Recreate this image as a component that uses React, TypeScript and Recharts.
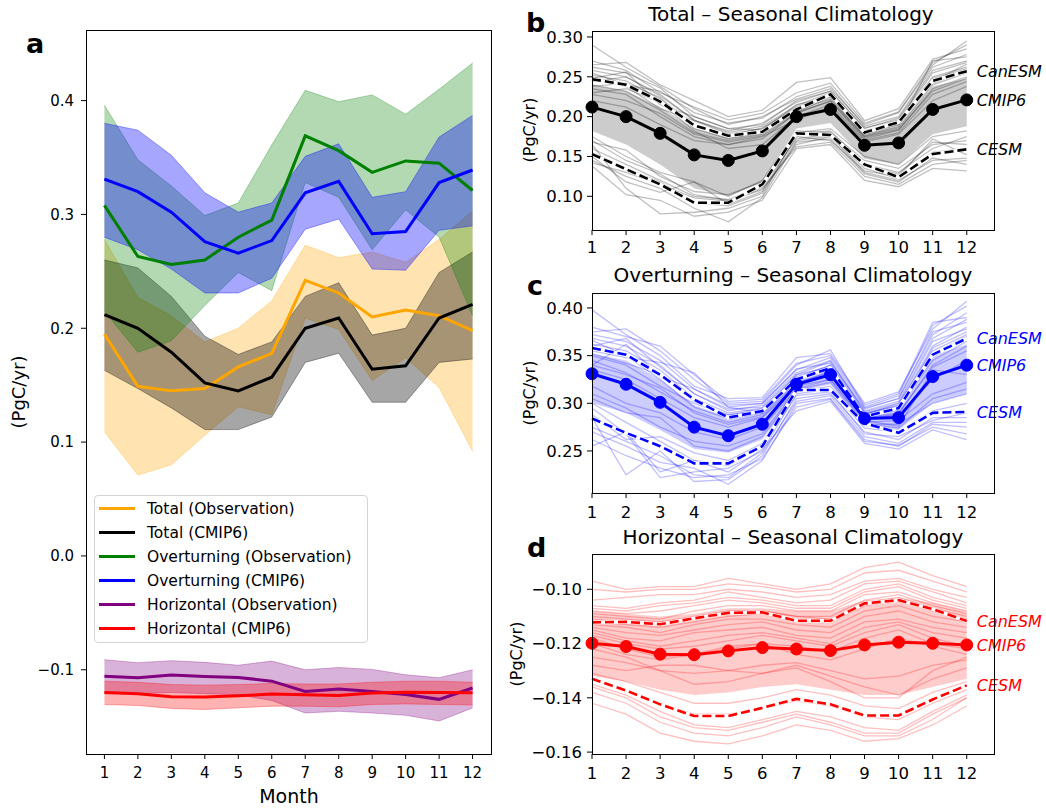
import { ComposedChart, Line, Area, XAxis, YAxis, ReferenceDot } from 'recharts';

const FONT = '"DejaVu Sans", "Liberation Sans", sans-serif';
const MINUS = '\u2212';

const months = [1, 2, 3, 4, 5, 6, 7, 8, 9, 10, 11, 12];

// ---- panel a: observation vs CMIP6 mean with spread ----
const totalObs = [0.195, 0.149, 0.145, 0.147, 0.166, 0.178, 0.242, 0.231, 0.21, 0.216, 0.211, 0.198];
const totalObsLo = [0.109, 0.071, 0.08, 0.106, 0.131, 0.124, 0.209, 0.199, 0.154, 0.174, 0.148, 0.092];
const totalObsHi = [0.278, 0.227, 0.211, 0.188, 0.2, 0.224, 0.273, 0.262, 0.267, 0.258, 0.278, 0.303];

const totalCmip = [0.212, 0.2, 0.179, 0.152, 0.145, 0.157, 0.2, 0.209, 0.164, 0.167, 0.209, 0.221];
const totalCmipLo = [0.163, 0.147, 0.13, 0.111, 0.111, 0.122, 0.17, 0.178, 0.135, 0.135, 0.17, 0.173];
const totalCmipHi = [0.26, 0.253, 0.228, 0.193, 0.177, 0.188, 0.228, 0.24, 0.194, 0.2, 0.249, 0.267];

const overObs = [0.308, 0.263, 0.256, 0.26, 0.28, 0.295, 0.369, 0.356, 0.337, 0.347, 0.345, 0.321];
const overObsLo = [0.215, 0.179, 0.189, 0.22, 0.249, 0.233, 0.328, 0.315, 0.269, 0.304, 0.28, 0.211];
const overObsHi = [0.396, 0.348, 0.325, 0.299, 0.31, 0.361, 0.409, 0.399, 0.405, 0.388, 0.41, 0.433];

const overCmip = [0.331, 0.32, 0.302, 0.276, 0.266, 0.277, 0.319, 0.329, 0.283, 0.285, 0.328, 0.339];
const overCmipLo = [0.28, 0.269, 0.252, 0.231, 0.231, 0.244, 0.287, 0.296, 0.252, 0.251, 0.286, 0.29];
const overCmipHi = [0.38, 0.374, 0.352, 0.319, 0.302, 0.31, 0.351, 0.362, 0.315, 0.32, 0.368, 0.387];

const horizObs = [-0.1056, -0.107, -0.1047, -0.106, -0.1067, -0.11, -0.119, -0.117, -0.119, -0.1217, -0.126, -0.116];
const horizObsLo = [-0.121, -0.121, -0.12, -0.121, -0.122, -0.127, -0.138, -0.1365, -0.138, -0.14, -0.145, -0.1335];
const horizObsHi = [-0.0912, -0.0938, -0.092, -0.0935, -0.096, -0.0924, -0.1, -0.098, -0.0997, -0.1044, -0.107, -0.1];

const horizCmip = [-0.12, -0.121, -0.1238, -0.124, -0.1229, -0.1214, -0.122, -0.1226, -0.1205, -0.1197, -0.1199, -0.1203];
const horizCmipLo = [-0.1305, -0.1314, -0.134, -0.1349, -0.1334, -0.132, -0.132, -0.1326, -0.1305, -0.13, -0.1305, -0.131];
const horizCmipHi = [-0.11, -0.111, -0.113, -0.1135, -0.113, -0.112, -0.1125, -0.1125, -0.111, -0.11, -0.11, -0.111];

const aTicks = [-0.1, 0, 0.1, 0.2, 0.3, 0.4];

// ---- panel b: Total ----
const bCmip = [0.212, 0.2, 0.179, 0.152, 0.145, 0.157, 0.2, 0.209, 0.164, 0.167, 0.209, 0.221];
const bCanesm = [0.247, 0.24, 0.219, 0.189, 0.176, 0.181, 0.209, 0.228, 0.18, 0.193, 0.245, 0.257];
const bCesm = [0.153, 0.134, 0.115, 0.092, 0.092, 0.115, 0.179, 0.177, 0.14, 0.124, 0.153, 0.159];
const bLo = [0.182, 0.165, 0.14, 0.11, 0.1, 0.118, 0.185, 0.192, 0.147, 0.14, 0.178, 0.188];
const bHi = [0.24, 0.232, 0.212, 0.185, 0.174, 0.18, 0.208, 0.222, 0.178, 0.188, 0.238, 0.248];
const bMembers = [
  [0.29, 0.262, 0.238, 0.21, 0.19, 0.2, 0.222, 0.235, 0.19, 0.205, 0.265, 0.295],
  [0.265, 0.268, 0.24, 0.22, 0.2, 0.208, 0.243, 0.249, 0.195, 0.21, 0.272, 0.285],
  [0.258, 0.25, 0.228, 0.195, 0.182, 0.192, 0.218, 0.232, 0.185, 0.198, 0.258, 0.27],
  [0.252, 0.245, 0.222, 0.19, 0.176, 0.186, 0.212, 0.228, 0.182, 0.193, 0.25, 0.262],
  [0.248, 0.256, 0.215, 0.2, 0.185, 0.183, 0.215, 0.225, 0.178, 0.19, 0.244, 0.266],
  [0.24, 0.232, 0.208, 0.18, 0.17, 0.178, 0.21, 0.222, 0.175, 0.186, 0.24, 0.255],
  [0.235, 0.228, 0.2, 0.175, 0.165, 0.172, 0.205, 0.219, 0.172, 0.183, 0.235, 0.25],
  [0.23, 0.235, 0.218, 0.182, 0.16, 0.165, 0.2, 0.215, 0.17, 0.18, 0.228, 0.244],
  [0.22, 0.212, 0.19, 0.17, 0.165, 0.175, 0.196, 0.212, 0.168, 0.178, 0.22, 0.238],
  [0.175, 0.15, 0.13, 0.118, 0.1, 0.12, 0.18, 0.185, 0.15, 0.14, 0.175, 0.182],
  [0.165, 0.11, 0.078, 0.08, 0.085, 0.1, 0.178, 0.182, 0.14, 0.13, 0.16, 0.175],
  [0.16, 0.14, 0.12, 0.1, 0.096, 0.112, 0.172, 0.178, 0.138, 0.128, 0.168, 0.165],
  [0.145, 0.125, 0.11, 0.085, 0.068, 0.098, 0.168, 0.172, 0.128, 0.118, 0.148, 0.14],
  [0.138, 0.102, 0.095, 0.075, 0.08, 0.095, 0.16, 0.165, 0.12, 0.112, 0.135, 0.132],
  [0.15, 0.118, 0.105, 0.118, 0.09, 0.106, 0.175, 0.17, 0.132, 0.125, 0.172, 0.152],
  [0.255, 0.24, 0.232, 0.205, 0.192, 0.198, 0.225, 0.238, 0.188, 0.2, 0.262, 0.278],
  [0.262, 0.255, 0.236, 0.2, 0.185, 0.19, 0.22, 0.232, 0.186, 0.196, 0.255, 0.268],
  [0.244, 0.25, 0.226, 0.196, 0.18, 0.188, 0.214, 0.23, 0.18, 0.192, 0.248, 0.26],
  [0.238, 0.242, 0.224, 0.185, 0.172, 0.18, 0.206, 0.224, 0.176, 0.188, 0.27, 0.275],
  [0.228, 0.22, 0.204, 0.178, 0.168, 0.176, 0.204, 0.22, 0.174, 0.184, 0.232, 0.248],
  [0.27, 0.258, 0.23, 0.212, 0.196, 0.204, 0.23, 0.242, 0.192, 0.206, 0.268, 0.29],
  [0.25, 0.238, 0.21, 0.195, 0.178, 0.185, 0.21, 0.226, 0.18, 0.19, 0.242, 0.258],
  [0.17, 0.145, 0.128, 0.102, 0.095, 0.108, 0.165, 0.175, 0.135, 0.122, 0.155, 0.16],
  [0.155, 0.135, 0.118, 0.092, 0.088, 0.104, 0.17, 0.176, 0.13, 0.12, 0.145, 0.148],
  [0.142, 0.13, 0.115, 0.098, 0.094, 0.11, 0.162, 0.168, 0.125, 0.115, 0.14, 0.145],
  [0.168, 0.158, 0.125, 0.106, 0.102, 0.118, 0.182, 0.18, 0.145, 0.135, 0.165, 0.17],
];
const bTicks = [0.1, 0.15, 0.2, 0.25, 0.3];

// ---- panel c: Overturning ----
const cCmip = [0.331, 0.32, 0.301, 0.275, 0.266, 0.278, 0.32, 0.33, 0.284, 0.285, 0.328, 0.34];
const cCanesm = [0.358, 0.351, 0.33, 0.304, 0.285, 0.292, 0.325, 0.337, 0.286, 0.295, 0.351, 0.368];
const cCesm = [0.284, 0.269, 0.255, 0.237, 0.237, 0.255, 0.314, 0.314, 0.279, 0.269, 0.29, 0.291];
const cLo = [0.3, 0.29, 0.272, 0.252, 0.248, 0.262, 0.312, 0.32, 0.276, 0.272, 0.3, 0.31];
const cHi = [0.352, 0.345, 0.325, 0.298, 0.285, 0.292, 0.326, 0.336, 0.29, 0.298, 0.35, 0.362];
const cMembers = [
  [0.398, 0.372, 0.35, 0.318, 0.305, 0.306, 0.348, 0.352, 0.3, 0.312, 0.378, 0.407],
  [0.375, 0.378, 0.355, 0.325, 0.3, 0.302, 0.34, 0.356, 0.296, 0.308, 0.382, 0.402],
  [0.368, 0.36, 0.34, 0.31, 0.292, 0.298, 0.332, 0.345, 0.292, 0.302, 0.368, 0.388],
  [0.362, 0.355, 0.335, 0.305, 0.29, 0.295, 0.328, 0.34, 0.29, 0.298, 0.36, 0.38],
  [0.355, 0.348, 0.343, 0.332, 0.296, 0.29, 0.33, 0.338, 0.288, 0.3, 0.355, 0.372],
  [0.35, 0.34, 0.318, 0.3, 0.288, 0.292, 0.325, 0.335, 0.287, 0.295, 0.345, 0.365],
  [0.345, 0.332, 0.312, 0.292, 0.28, 0.288, 0.322, 0.332, 0.285, 0.29, 0.338, 0.355],
  [0.335, 0.325, 0.305, 0.285, 0.275, 0.285, 0.318, 0.33, 0.283, 0.288, 0.325, 0.345],
  [0.318, 0.3, 0.29, 0.27, 0.262, 0.275, 0.315, 0.325, 0.28, 0.282, 0.31, 0.322],
  [0.305, 0.29, 0.285, 0.255, 0.25, 0.265, 0.312, 0.318, 0.278, 0.278, 0.3, 0.31],
  [0.295, 0.268, 0.222, 0.228, 0.232, 0.25, 0.31, 0.315, 0.274, 0.27, 0.292, 0.3],
  [0.285, 0.225, 0.25, 0.218, 0.22, 0.245, 0.305, 0.31, 0.27, 0.262, 0.285, 0.285],
  [0.27, 0.255, 0.238, 0.232, 0.215, 0.24, 0.3, 0.305, 0.262, 0.255, 0.278, 0.275],
  [0.255, 0.27, 0.228, 0.24, 0.228, 0.252, 0.292, 0.302, 0.258, 0.252, 0.272, 0.262],
  [0.288, 0.262, 0.265, 0.248, 0.24, 0.258, 0.318, 0.325, 0.282, 0.276, 0.335, 0.33],
  [0.34, 0.362, 0.328, 0.315, 0.296, 0.3, 0.336, 0.342, 0.294, 0.305, 0.372, 0.395],
  [0.372, 0.365, 0.345, 0.315, 0.298, 0.3, 0.335, 0.348, 0.295, 0.305, 0.375, 0.385],
  [0.36, 0.368, 0.338, 0.31, 0.294, 0.296, 0.33, 0.344, 0.291, 0.3, 0.365, 0.378],
  [0.352, 0.342, 0.33, 0.302, 0.288, 0.294, 0.326, 0.34, 0.289, 0.297, 0.352, 0.37],
  [0.366, 0.35, 0.325, 0.296, 0.284, 0.29, 0.324, 0.336, 0.286, 0.293, 0.358, 0.375],
  [0.34, 0.33, 0.316, 0.29, 0.278, 0.286, 0.32, 0.334, 0.284, 0.289, 0.34, 0.36],
  [0.38, 0.37, 0.36, 0.33, 0.302, 0.304, 0.342, 0.35, 0.298, 0.31, 0.385, 0.39],
  [0.3, 0.28, 0.26, 0.24, 0.235, 0.255, 0.308, 0.312, 0.268, 0.265, 0.282, 0.29],
  [0.275, 0.26, 0.245, 0.225, 0.222, 0.248, 0.302, 0.308, 0.265, 0.258, 0.28, 0.28],
  [0.262, 0.245, 0.232, 0.222, 0.225, 0.242, 0.296, 0.304, 0.26, 0.256, 0.275, 0.268],
  [0.31, 0.295, 0.275, 0.26, 0.255, 0.268, 0.314, 0.322, 0.279, 0.274, 0.305, 0.315],
];
const cTicks = [0.25, 0.3, 0.35, 0.4];

// ---- panel d: Horizontal ----
const dCmip = [-0.1199, -0.1211, -0.1239, -0.1241, -0.1227, -0.1215, -0.122, -0.1226, -0.1205, -0.1195, -0.1199, -0.1205];
const dCanesm = [-0.1122, -0.112, -0.1129, -0.1107, -0.1087, -0.1085, -0.1116, -0.1116, -0.1052, -0.104, -0.1073, -0.1117];
const dCesm = [-0.133, -0.1373, -0.1424, -0.1467, -0.1467, -0.1437, -0.1404, -0.1424, -0.1465, -0.1465, -0.1406, -0.1354];
const dLo = [-0.132, -0.134, -0.137, -0.139, -0.138, -0.136, -0.135, -0.137, -0.139, -0.139, -0.136, -0.133];
const dHi = [-0.108, -0.109, -0.11, -0.109, -0.107, -0.107, -0.108, -0.108, -0.104, -0.103, -0.105, -0.108];
const dMembers = [
  [-0.097, -0.1, -0.099, -0.099, -0.096, -0.098, -0.1, -0.098, -0.092, -0.09, -0.095, -0.099],
  [-0.1, -0.101, -0.1, -0.1, -0.098, -0.099, -0.101, -0.1, -0.094, -0.093, -0.097, -0.101],
  [-0.104, -0.103, -0.102, -0.102, -0.1, -0.101, -0.103, -0.102, -0.097, -0.096, -0.1, -0.103],
  [-0.107, -0.108, -0.106, -0.105, -0.103, -0.104, -0.106, -0.106, -0.1, -0.098, -0.103, -0.106],
  [-0.109, -0.11, -0.111, -0.108, -0.106, -0.106, -0.108, -0.108, -0.102, -0.101, -0.105, -0.108],
  [-0.113, -0.114, -0.116, -0.113, -0.111, -0.111, -0.113, -0.114, -0.108, -0.106, -0.11, -0.112],
  [-0.115, -0.118, -0.119, -0.116, -0.115, -0.114, -0.117, -0.118, -0.112, -0.111, -0.114, -0.116],
  [-0.117, -0.12, -0.122, -0.121, -0.119, -0.117, -0.119, -0.121, -0.116, -0.113, -0.118, -0.121],
  [-0.125, -0.127, -0.13, -0.135, -0.134, -0.131, -0.129, -0.134, -0.14, -0.14, -0.13, -0.125],
  [-0.128, -0.13, -0.128, -0.128, -0.13, -0.131, -0.128, -0.132, -0.136, -0.139, -0.133, -0.129],
  [-0.131, -0.134, -0.138, -0.142, -0.142, -0.14, -0.137, -0.139, -0.143, -0.144, -0.138, -0.134],
  [-0.135, -0.139, -0.145, -0.15, -0.151, -0.148, -0.145, -0.147, -0.151, -0.152, -0.145, -0.139],
  [-0.138, -0.142, -0.149, -0.153, -0.154, -0.151, -0.147, -0.15, -0.154, -0.154, -0.148, -0.14],
  [-0.142, -0.146, -0.153, -0.156, -0.157, -0.154, -0.15, -0.152, -0.156, -0.155, -0.15, -0.143],
  [-0.12, -0.124, -0.126, -0.124, -0.122, -0.12, -0.124, -0.126, -0.122, -0.118, -0.121, -0.124],
  [-0.111, -0.112, -0.113, -0.111, -0.109, -0.108, -0.11, -0.111, -0.105, -0.103, -0.107, -0.11],
  [-0.106, -0.107, -0.105, -0.104, -0.101, -0.103, -0.105, -0.104, -0.098, -0.097, -0.101, -0.105],
  [-0.108, -0.109, -0.108, -0.106, -0.104, -0.105, -0.107, -0.107, -0.101, -0.099, -0.104, -0.107],
  [-0.11, -0.111, -0.112, -0.11, -0.108, -0.108, -0.11, -0.11, -0.104, -0.102, -0.106, -0.109],
  [-0.112, -0.113, -0.114, -0.112, -0.11, -0.109, -0.112, -0.112, -0.106, -0.104, -0.108, -0.111],
  [-0.114, -0.116, -0.117, -0.115, -0.113, -0.112, -0.115, -0.116, -0.11, -0.108, -0.112, -0.114],
  [-0.118, -0.122, -0.125, -0.124, -0.121, -0.12, -0.121, -0.123, -0.118, -0.115, -0.12, -0.122],
  [-0.122, -0.125, -0.13, -0.131, -0.13, -0.128, -0.127, -0.13, -0.133, -0.132, -0.128, -0.126],
  [-0.133, -0.137, -0.142, -0.146, -0.146, -0.144, -0.141, -0.143, -0.147, -0.148, -0.142, -0.137],
  [-0.136, -0.14, -0.147, -0.151, -0.152, -0.149, -0.146, -0.149, -0.153, -0.153, -0.146, -0.14],
  [-0.116, -0.119, -0.121, -0.119, -0.117, -0.116, -0.118, -0.12, -0.114, -0.112, -0.116, -0.118],
];
const dTicks = [-0.16, -0.14, -0.12, -0.1];

const mainSeries = [
  { key: 'totalObs', name: 'Total (Observation)', color: '#ffa500', values: totalObs, lo: totalObsLo, hi: totalObsHi, alpha: 0.3 },
  { key: 'totalCmip', name: 'Total (CMIP6)', color: '#000000', values: totalCmip, lo: totalCmipLo, hi: totalCmipHi, alpha: 0.35 },
  { key: 'overObs', name: 'Overturning (Observation)', color: '#008000', values: overObs, lo: overObsLo, hi: overObsHi, alpha: 0.3 },
  { key: 'overCmip', name: 'Overturning (CMIP6)', color: '#0000ff', values: overCmip, lo: overCmipLo, hi: overCmipHi, alpha: 0.35 },
  { key: 'horizObs', name: 'Horizontal (Observation)', color: '#800080', values: horizObs, lo: horizObsLo, hi: horizObsHi, alpha: 0.3 },
  { key: 'horizCmip', name: 'Horizontal (CMIP6)', color: '#ff0000', values: horizCmip, lo: horizCmipLo, hi: horizCmipHi, alpha: 0.3 },
];

const fmt = (digits: number) => (v: number) => {
  const s = Math.abs(v).toFixed(digits);
  return v < -1e-9 ? MINUS + s : s;
};

function Frame({ left, top, width, height }: { left: number; top: number; width: number; height: number }) {
  return (
    <div
      style={{
        position: 'absolute',
        left: left - 0.5,
        top: top - 0.5,
        width: width + 1,
        height: height + 1,
        border: '1px solid #000',
        boxSizing: 'border-box',
        pointerEvents: 'none',
      }}
    />
  );
}

function MainPanel() {
  const rows = months.map((m, i) => {
    const row: any = { month: m };
    mainSeries.forEach((s) => {
      row[s.key] = s.values[i];
      row[s.key + 'Band'] = [s.lo[i], s.hi[i]];
    });
    return row;
  });

  return (
    <>
      <div style={{ position: 'absolute', left: 0, top: 0 }}>
        <ComposedChart width={520} height={811} data={rows} margin={{ top: 30, right: 29, bottom: 0, left: 0 }}>
          <XAxis
            dataKey="month"
            type="number"
            domain={[0.45, 12.55]}
            ticks={months}
            height={57}
            axisLine={false}
            tickSize={5}
            tickMargin={8}
            stroke="#000"
            tick={{ fill: '#000', fontSize: 15, fontFamily: FONT }}
          />
          <YAxis
            type="number"
            domain={[-0.174, 0.462]}
            ticks={aTicks}
            tickFormatter={fmt(1)}
            width={86}
            axisLine={false}
            tickSize={5}
            tickMargin={7}
            stroke="#000"
            tick={{ fill: '#000', fontSize: 15, fontFamily: FONT }}
          />
          {mainSeries.map((s) => (
            <Area
              key={s.key + 'Band'}
              type="linear"
              dataKey={s.key + 'Band'}
              fill={s.color}
              fillOpacity={s.alpha}
              stroke={s.color}
              strokeOpacity={s.alpha}
              strokeWidth={1}
              dot={false}
              activeDot={false}
              isAnimationActive={false}
            />
          ))}
          {mainSeries.map((s) => (
            <Line
              key={s.key}
              type="linear"
              dataKey={s.key}
              stroke={s.color}
              strokeWidth={3}
              dot={false}
              activeDot={false}
              isAnimationActive={false}
            />
          ))}
        </ComposedChart>
      </div>
      <Frame left={86} top={30} width={405} height={724} />
      <div
        style={{
          position: 'absolute',
          left: 94,
          top: 495,
          width: 274,
          height: 148,
          border: '1px solid #d4d4d4',
          borderRadius: 4,
          background: 'rgba(255,255,255,0.8)',
          boxSizing: 'border-box',
          fontFamily: FONT,
          fontSize: 15.5,
          color: '#000',
        }}
      >
        {mainSeries.map((s, i) => (
          <div
            key={s.key}
            style={{ position: 'absolute', left: 4, top: 2.5 + i * 24, height: 20, display: 'flex', alignItems: 'center', whiteSpace: 'nowrap' }}
          >
            <span style={{ display: 'inline-block', width: 36, height: 3, background: s.color, marginRight: 12 }} />
            <span>{s.name}</span>
          </div>
        ))}
      </div>
    </>
  );
}

interface SeasonalProps {
  top: number;
  height: number;
  marginTop: number;
  marginBottom: number;
  color: string;
  cmip: number[];
  canesm: number[];
  cesm: number[];
  lo: number[];
  hi: number[];
  members: number[][];
  domain: [number, number];
  ticks: number[];
  tickMargin: number;
  yTickMargin: number;
  bandOpacity: number;
}

function SeasonalPanel(p: SeasonalProps) {
  const rows = months.map((m, i) => {
    const row: any = { month: m, cmip6: p.cmip[i], canesm: p.canesm[i], cesm: p.cesm[i], band: [p.lo[i], p.hi[i]] };
    p.members.forEach((mem, j) => {
      row['m' + j] = mem[i];
    });
    return row;
  });
  const last = months.length - 1;
  const labelStyle = { fill: p.color, fontSize: 16, fontStyle: 'italic', fontFamily: FONT };
  const plotTop = p.top + p.marginTop;
  const plotBottom = p.top + p.height - p.marginBottom - 30;

  return (
    <>
      <div style={{ position: 'absolute', left: 520, top: p.top }}>
        <ComposedChart width={526} height={p.height} data={rows} margin={{ top: p.marginTop, right: 52, bottom: p.marginBottom, left: 0 }}>
          <XAxis
            dataKey="month"
            type="number"
            domain={[1, 12.8]}
            ticks={months}
            height={30}
            axisLine={false}
            tickSize={5}
            tickMargin={p.tickMargin}
            stroke="#000"
            tick={{ fill: '#000', fontSize: 16.5, fontFamily: FONT }}
          />
          <YAxis
            type="number"
            domain={p.domain}
            ticks={p.ticks}
            tickFormatter={fmt(2)}
            width={72}
            axisLine={false}
            tickSize={5}
            tickMargin={p.yTickMargin}
            stroke="#000"
            tick={{ fill: '#000', fontSize: 16.5, fontFamily: FONT }}
          />
          <Area
            type="linear"
            dataKey="band"
            fill={p.color}
            fillOpacity={p.bandOpacity}
            stroke="none"
            dot={false}
            activeDot={false}
            isAnimationActive={false}
          />
          {p.members.map((_, j) => (
            <Line
              key={'m' + j}
              type="linear"
              dataKey={'m' + j}
              stroke={p.color}
              strokeOpacity={0.25}
              strokeWidth={1.3}
              dot={false}
              activeDot={false}
              isAnimationActive={false}
            />
          ))}
          <Line type="linear" dataKey="canesm" stroke="#fff" strokeWidth={3.5} dot={false} activeDot={false} isAnimationActive={false} />
          <Line type="linear" dataKey="cesm" stroke="#fff" strokeWidth={3.5} dot={false} activeDot={false} isAnimationActive={false} />
          <Line
            type="linear"
            dataKey="canesm"
            stroke={p.color}
            strokeWidth={2.6}
            strokeDasharray="9 4"
            dot={false}
            activeDot={false}
            isAnimationActive={false}
          />
          <Line
            type="linear"
            dataKey="cesm"
            stroke={p.color}
            strokeWidth={2.6}
            strokeDasharray="9 4"
            dot={false}
            activeDot={false}
            isAnimationActive={false}
          />
          <Line
            type="linear"
            dataKey="cmip6"
            stroke={p.color}
            strokeWidth={3}
            dot={{ r: 6, fill: p.color, stroke: p.color, strokeWidth: 1 }}
            activeDot={false}
            isAnimationActive={false}
          />
          <ReferenceDot x={months[last]} y={p.canesm[last]} r={0} fill="none" stroke="none" label={{ value: 'CanESM', position: 'right', offset: 10, ...labelStyle }} />
          <ReferenceDot x={months[last]} y={p.cmip[last]} r={0} fill="none" stroke="none" label={{ value: 'CMIP6', position: 'right', offset: 10, ...labelStyle }} />
          <ReferenceDot x={months[last]} y={p.cesm[last]} r={0} fill="none" stroke="none" label={{ value: 'CESM', position: 'right', offset: 10, ...labelStyle }} />
        </ComposedChart>
      </div>
      <Frame left={592} top={plotTop} width={402} height={plotBottom - plotTop} />
    </>
  );
}

function Texts() {
  const title = { fontFamily: FONT, fontSize: 20, fill: '#000', textAnchor: 'middle' as const };
  const letter = { fontFamily: FONT, fontSize: 27, fontWeight: 'bold' as const, fill: '#000' };
  return (
    <svg width={1046} height={811} style={{ position: 'absolute', left: 0, top: 0, pointerEvents: 'none' }}>
      <text x={26} y={53} {...letter}>a</text>
      <text x={526} y={32} {...letter}>b</text>
      <text x={527} y={295} {...letter}>c</text>
      <text x={527} y={557} {...letter}>d</text>
      <text x={791} y={21} {...title}>Total – Seasonal Climatology</text>
      <text x={793} y={282} {...title}>Overturning – Seasonal Climatology</text>
      <text x={793} y={544} {...title}>Horizontal – Seasonal Climatology</text>
      <text x={289} y={803} fontFamily={FONT} fontSize={19} textAnchor="middle">Month</text>
      <text transform="translate(25,392) rotate(-90)" fontFamily={FONT} fontSize={18} textAnchor="middle">(PgC/yr)</text>
      <text transform="translate(535,130) rotate(-90)" fontFamily={FONT} fontSize={16} textAnchor="middle">(PgC/yr)</text>
      <text transform="translate(535,393) rotate(-90)" fontFamily={FONT} fontSize={16} textAnchor="middle">(PgC/yr)</text>
      <text transform="translate(522,654) rotate(-90)" fontFamily={FONT} fontSize={16} textAnchor="middle">(PgC/yr)</text>
    </svg>
  );
}

export default function App() {
  return (
    <div style={{ position: 'absolute', left: 0, top: 0, width: 1046, height: 811, background: '#fff', overflow: 'hidden' }}>
      <MainPanel />
      <SeasonalPanel
        top={0}
        height={262}
        marginTop={31}
        marginBottom={2}
        color="#000000"
        cmip={bCmip}
        canesm={bCanesm}
        cesm={bCesm}
        lo={bLo}
        hi={bHi}
        members={bMembers}
        domain={[0.0577, 0.3075]}
        ticks={bTicks}
        tickMargin={6}
        yTickMargin={4}
        bandOpacity={0.2}
      />
      <SeasonalPanel
        top={262}
        height={262}
        marginTop={31}
        marginBottom={1}
        color="#0000ff"
        cmip={cCmip}
        canesm={cCanesm}
        cesm={cCesm}
        lo={cLo}
        hi={cHi}
        members={cMembers}
        domain={[0.2059, 0.4157]}
        ticks={cTicks}
        tickMargin={8}
        yTickMargin={4}
        bandOpacity={0.2}
      />
      <SeasonalPanel
        top={524}
        height={287}
        marginTop={30}
        marginBottom={27}
        color="#ff0000"
        cmip={dCmip}
        canesm={dCanesm}
        cesm={dCesm}
        lo={dLo}
        hi={dHi}
        members={dMembers}
        domain={[-0.1607, -0.087]}
        ticks={dTicks}
        tickMargin={8}
        yTickMargin={5}
        bandOpacity={0.2}
      />
      <Texts />
    </div>
  );
}
